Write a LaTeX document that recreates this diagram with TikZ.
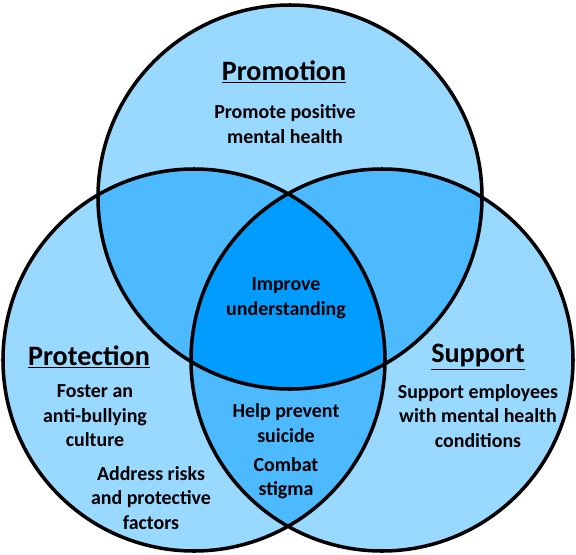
\documentclass[tikz,border=0pt]{standalone}
\usepackage{fontspec}
\setmainfont{Carlito}
\definecolor{outerblue}{HTML}{99D8FF}
\definecolor{pairblue}{HTML}{4DB9FF}
\definecolor{coreblue}{HTML}{009CFF}
\begin{document}
\begin{tikzpicture}
[x=0.03cm, y=-0.03cm,
 ring/.style={line width=3pt},
 head/.style={font=\bfseries\fontsize{24}{28}\selectfont},
 txt/.style={font=\bfseries\fontsize{17}{21}\selectfont, align=center}]

\useasboundingbox (0,0) rectangle (576,555);

\coordinate (T) at (290,197);
\coordinate (L) at (194,360);
\coordinate (R) at (382,360);

% regions
\fill[outerblue] (T) circle (5.76cm) (L) circle (5.73cm) (R) circle (5.73cm);
\begin{scope}
\clip (T) circle (5.76cm);
\fill[pairblue] (L) circle (5.73cm) (R) circle (5.73cm);
\end{scope}
\begin{scope}
\clip (L) circle (5.73cm);
\fill[pairblue] (R) circle (5.73cm);
\end{scope}
\begin{scope}
\clip (T) circle (5.76cm);
\clip (L) circle (5.73cm);
\fill[coreblue] (R) circle (5.73cm);
\end{scope}

\draw[ring] (T) circle (5.76cm) (L) circle (5.73cm) (R) circle (5.73cm);

% labels
\node[head] (prom) at (284,72) {\underline{Promotion}};
\node[head] (prot) at (89,357) {\underline{Protection}};
\node[head] (supp) at (478,357) {\underline{Support}};

\node[txt] (promtxt) at (285,124) {Promote positive\\mental health};
\node[txt] (core) at (286,298) {Improve\\understanding};
\node[txt] (foster) at (95,416) {Foster an\\anti-bullying\\culture};
\node[txt] (risks) at (151,498) {Address risks\\and protective\\factors};
\node[txt] (supptxt) at (478,416) {Support employees\\with mental health\\conditions};
\node[txt] (suicide) at (286,423) {Help prevent\\suicide};
\node[txt] (stigma) at (286,478) {Combat\\stigma};

\end{tikzpicture}
\end{document}
